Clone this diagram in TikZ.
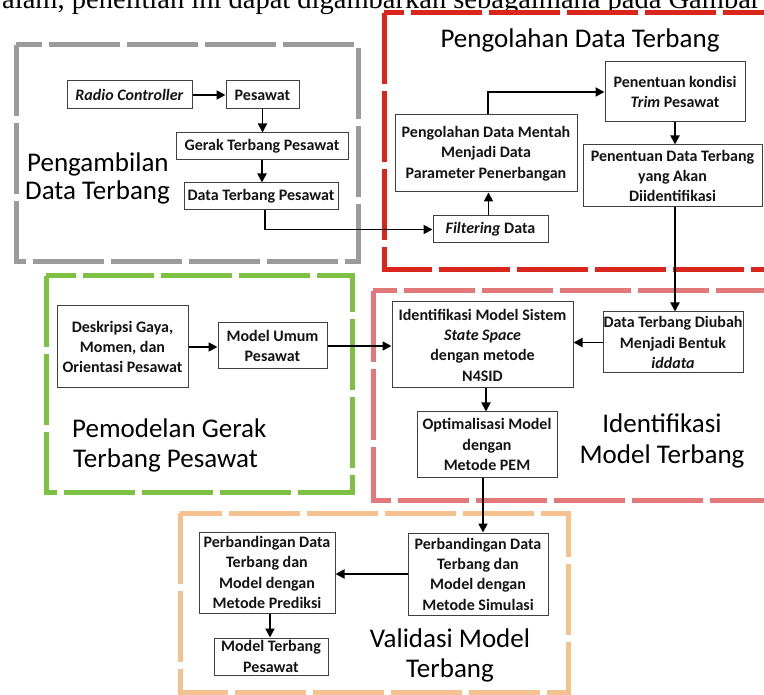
\documentclass[tikz,border=0pt]{standalone}
\usepackage{fontspec}
\setmainfont{Carlito}
\newfontfamily\refserif{Liberation Serif}
\usetikzlibrary{arrows.meta,calc}
\definecolor{bgray}{RGB}{155,155,155}
\definecolor{bred}{RGB}{218,37,29}
\definecolor{bgreen}{RGB}{125,193,66}
\definecolor{bpink}{RGB}{226,120,122}
\definecolor{borange}{RGB}{245,193,142}
\begin{document}
\begin{tikzpicture}[x=1pt,y=-1pt,
  box/.style={draw=black!75,line width=1pt,inner sep=0pt,align=center,
    font=\bfseries\fontsize{16}{20.3}\selectfont,fill=white,text=black!92},
  arr/.style={line width=1.8pt,-{Triangle[length=9pt,width=9pt]}},
  frame/.style={line width=5pt,dash pattern=on 71pt off 7pt,line join=miter},
  ttl/.style={font=\fontsize{27}{30}\selectfont,inner sep=0pt,text=black}]
\useasboundingbox (0,0) rectangle (764,695);
\clip (0,0) rectangle (764,695);
\fill[white] (0,0) rectangle (764,695);

% running text line at the top (cut off by the picture edge)
\node[anchor=base west,inner sep=0pt,font=\refserif\fontsize{28.5}{30}\selectfont] (toptext) at (2,9)
  {alam, penelitian ini dapat digambarkan sebagaimana pada Gambar};

% frames
\draw[frame,bgray] (16,45) rectangle (358,262);
\draw[frame,bred] (384,13) rectangle (800,270);
\draw[frame,bgreen] (46,276) rectangle (352,492);
\draw[frame,bpink] (373,291) rectangle (800,500);
\draw[frame,borange] (180,513) rectangle (568,692);

% titles
\node[ttl,anchor=base west] (t1a) at (27,172) {Pengambilan};
\node[ttl,anchor=base west] (t1b) at (25,200) {Data Terbang};
\node[ttl,anchor=base] (t2) at (580,48) {Pengolahan Data Terbang};
\node[ttl,anchor=base west] (t3a) at (72,437) {Pemodelan Gerak};
\node[ttl,anchor=base west] (t3b) at (73,467) {Terbang Pesawat};
\node[ttl,anchor=base] (t4a) at (662,432) {Identifikasi};
\node[ttl,anchor=base] (t4b) at (662,463) {Model Terbang};
\node[ttl,anchor=base] (t5a) at (450,647) {Validasi Model};
\node[ttl,anchor=base] (t5b) at (450,677) {Terbang};

% boxes
\node[box,minimum width=125pt,minimum height=28pt] (rc) at (129.5,95) {\textit{Radio Controller}};
\node[box,minimum width=73pt,minimum height=28pt] (pes) at (262.5,95) {Pesawat};
\node[box,minimum width=172pt,minimum height=27pt] (gerak) at (262,146.5) {Gerak Terbang Pesawat};
\node[box,minimum width=154pt,minimum height=27pt] (dtp) at (261,196.5) {Data Terbang Pesawat};
\node[box,minimum width=115pt,minimum height=27pt] (filt) at (490.5,229.5) {\textit{Filtering} Data};
\node[box,minimum width=182pt,minimum height=77pt] (mentah) at (486,153.5) {Pengolahan Data Mentah\\Menjadi Data\\Parameter Penerbangan};
\node[box,minimum width=140pt,minimum height=60pt] (trim) at (675,92) {Penentuan kondisi\\\textit{Trim} Pesawat};
\node[box,minimum width=179pt,minimum height=62pt] (pdt) at (672.5,176) {Penentuan Data Terbang\\yang Akan\\Diidentifikasi};
\node[box,minimum width=131pt,minimum height=82pt] (desk) at (122.5,347) {Deskripsi Gaya,\\Momen, dan\\Orientasi Pesawat};
\node[box,minimum width=109pt,minimum height=46pt] (umum) at (272.5,346) {Model Umum\\Pesawat};
\node[box,minimum width=181pt,minimum height=86pt] (n4sid) at (482.5,345) {Identifikasi Model Sistem\\\textit{State Space}\\dengan metode\\N4SID};
\node[box,minimum width=140pt,minimum height=61pt] (iddata) at (673,342.5) {Data Terbang Diubah\\Menjadi Bentuk\\\textit{iddata}};
\node[box,minimum width=140pt,minimum height=65pt] (pem) at (487,444.5) {Optimalisasi Model\\dengan\\Metode PEM};
\node[box,minimum width=140pt,minimum height=82pt] (sim) at (478,574) {Perbandingan Data\\Terbang dan\\Model dengan\\Metode Simulasi};
\node[box,minimum width=136pt,minimum height=81pt] (pred) at (267,572.5) {Perbandingan Data\\Terbang dan\\Model dengan\\Metode Prediksi};
\node[box,minimum width=114pt,minimum height=37pt] (mtp) at (271,656.5) {Model Terbang\\Pesawat};

% connectors
\draw[arr] (rc.east) -- (pes.west);
\draw[arr] (pes.south) -- (pes.south |- gerak.north);
\draw[arr] (gerak.south) -- (gerak.south |- dtp.north);
\draw[arr] ([xshift=4pt]dtp.south) |- (filt.west);
\draw[arr] ([xshift=-2pt]filt.north) -- ([xshift=-2pt]filt.north |- mentah.south);
\draw[arr] ([xshift=2pt]mentah.north) |- (trim.west);
\draw[arr] (trim.south) -- (trim.south |- pdt.north);
\draw[arr] ([xshift=2.5pt]pdt.south) -- ([xshift=2.5pt]pdt.south |- iddata.north);
\draw[arr] (iddata.west) -- (iddata.west -| n4sid.east);
\draw[arr] (desk.east) -- (desk.east -| umum.west);
\draw[arr] (umum.east) -- (umum.east -| n4sid.west);
\draw[arr] ([xshift=3.5pt]n4sid.south) -- ([xshift=3.5pt]n4sid.south |- pem.north);
\draw[arr] ([xshift=-4pt]pem.south) -- ([xshift=-4pt]pem.south |- sim.north);
\draw[arr] (sim.west) -- (sim.west -| pred.east);
\draw[arr] ([xshift=3pt]pred.south) -- ([xshift=3pt]pred.south |- mtp.north);
\end{tikzpicture}
\end{document}
